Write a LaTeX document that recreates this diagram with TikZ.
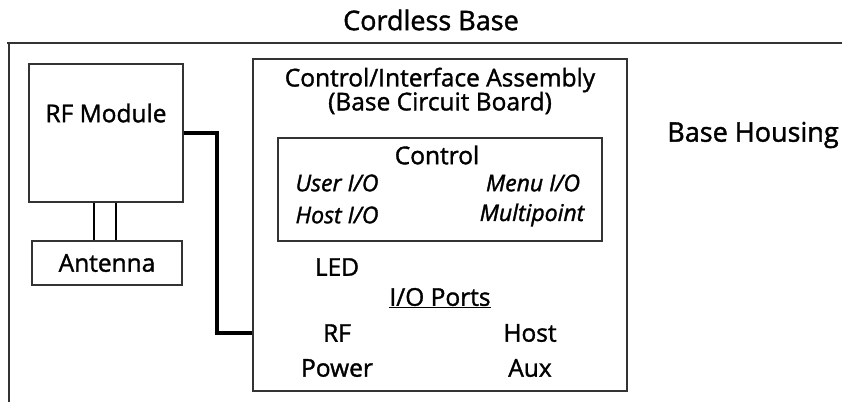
\documentclass[tikz,border=0pt]{standalone}
\usepackage{fontspec}
\setmainfont{Open Sans}[FakeBold=1.4]
\begin{document}
\begin{tikzpicture}[x=1pt,y=-1pt,
  box/.style={draw=black!80, line width=1.2pt, inner sep=0pt},
  txt/.style={font=\fontsize{24.5}{28}\selectfont, inner sep=0pt, anchor=center},
  bigtxt/.style={font=\fontsize{27}{30}\selectfont, inner sep=0pt, anchor=center},
  itxt/.style={font=\fontsize{23}{26}\selectfont\itshape, inner sep=0pt, anchor=center},
  wire/.style={draw=black, line width=1.3pt},
  bus/.style={draw=black, line width=3.6pt},
  housing/.style={draw=black!80, line width=1.3pt}]
\useasboundingbox (0,0) rectangle (842,402);
% housing
\draw[housing] (7,43) -- (842,43);
\draw[housing] (9,43) -- (9,402);
\node[bigtxt] (title) at (431,20) {Cordless Base};
\node[bigtxt] (bh) at (753,135) {Base Housing};
% RF module
\node[box, minimum width=154pt, minimum height=138pt] (rf) at (106,133) {};
\node[txt] (rft) at (106,113) {RF Module};
\node[box, minimum width=150pt, minimum height=44pt] (ant) at (107,263) {};
\node[txt] (antt) at (107,263) {Antenna};
\draw[wire] ([xshift=-12pt]rf.south) -- ([xshift=-12pt]rf.south |- ant.north);
\draw[wire] ([xshift=10pt]rf.south) -- ([xshift=10pt]rf.south |- ant.north);
% control assembly
\node[box, minimum width=374pt, minimum height=332pt] (ctrl) at (440,225) {};
\node[txt] (ca1) at (440,80) {Control/Interface Assembly};
\node[txt] (ca2) at (440,103) {(Base Circuit Board)};
\node[box, minimum width=324pt, minimum height=103pt] (inner) at (440,189.5) {};
\node[txt] (ctl) at (437,155) {Control};
\node[itxt] (uio) at (337,183) {User I/O};
\node[itxt] (mio) at (533,183) {Menu I/O};
\node[itxt] (hio) at (337,215) {Host I/O};
\node[itxt] (mp) at (532,215) {Multipoint};
\node[txt] (led) at (337,267) {LED};
\node[txt] (iop) at (440,298) {\underline{I/O Ports}};
\node[txt] (prf) at (337,333) {RF};
\node[txt] (phost) at (530,333) {Host};
\node[txt] (ppow) at (337,368) {Power};
\node[txt] (paux) at (530,368) {Aux};
% bus
\coordinate (bend) at (217,230);
\coordinate (rfport) at (ctrl.west |- 0,333);
\draw[bus] (rf.east) -| (bend) |- (rfport);
\end{tikzpicture}
\end{document}
